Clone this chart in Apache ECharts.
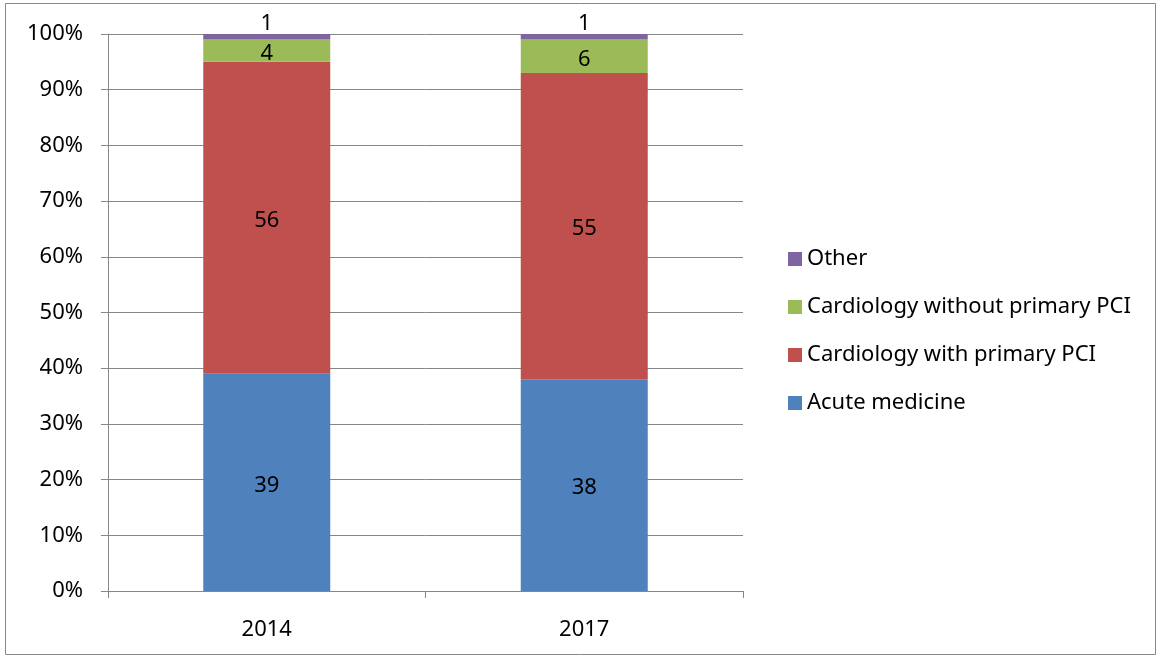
<!DOCTYPE html>
<html>
<head>
<meta charset="utf-8">
<script src="https://cdn.jsdelivr.net/npm/echarts@6/dist/echarts.min.js"></script>
<style>
  html, body { margin: 0; padding: 0; background: #fff; }
  #chart { width: 1161px; height: 657px; }
</style>
</head>
<body>
<div id="chart"></div>
<script>
// categories and values (percent)
const years = ['2014', '2017'];
const acuteMedicine = [39, 38];
const cardioWithPCI = [56, 55];
const cardioWithoutPCI = [4, 6];
const other = [1, 1];
const yTicks = [0, 10, 20, 30, 40, 50, 60, 70, 80, 90, 100];

const chart = echarts.init(document.getElementById('chart'));
const font = 'Noto Sans';
const fs = 22;

function barSeries(name, data, color, pos) {
  return {
    name: name,
    type: 'bar',
    stack: 'total',
    barWidth: '40%',
    data: data,
    itemStyle: { color: color },
    label: {
      show: true,
      position: pos || 'inside',
      distance: -1,
      offset: pos ? [0, 0] : [0, 3],
      color: '#000',
      fontFamily: font,
      fontSize: fs
    }
  };
}

const option = {
  animation: false,
  textStyle: { fontFamily: font },
  graphic: [{
    type: 'rect',
    shape: { x: 5.5, y: 3.5, width: 1150, height: 651 },
    style: { fill: 'none', stroke: '#888', lineWidth: 1 },
    silent: true
  }],
  grid: { left: 108, right: 418, top: 34, bottom: 66 },
  legend: {
    orient: 'vertical',
    left: 783,
    top: 243,
    itemWidth: 14,
    itemHeight: 14,
    itemGap: 26,
    icon: 'rect',
    textStyle: { fontFamily: font, fontSize: fs, color: '#000' },
    data: ['Other', 'Cardiology without primary PCI', 'Cardiology with primary PCI', 'Acute medicine']
  },
  xAxis: {
    type: 'category',
    data: years,
    axisLine: { lineStyle: { color: '#878787' } },
    axisTick: { show: true, length: 7, lineStyle: { color: '#878787' } },
    axisLabel: { color: '#000', fontFamily: font, fontSize: fs, margin: 28 }
  },
  yAxis: {
    type: 'value',
    min: yTicks[0],
    max: yTicks[yTicks.length - 1],
    interval: 10,
    axisLine: { show: true, lineStyle: { color: '#878787' } },
    axisTick: { show: true, length: 7, lineStyle: { color: '#878787' } },
    splitLine: { show: true, lineStyle: { color: '#878787' } },
    axisLabel: {
      color: '#000', fontFamily: font, fontSize: fs, margin: 25,
      formatter: function (v) { return v + '%'; }
    }
  },
  series: [
    barSeries('Acute medicine', acuteMedicine, '#4F81BD'),
    barSeries('Cardiology with primary PCI', cardioWithPCI, '#C0504D'),
    barSeries('Cardiology without primary PCI', cardioWithoutPCI, '#9BBB59'),
    barSeries('Other', other, '#8064A2', 'top')
  ]
};

chart.setOption(option);
</script>
</body>
</html>
